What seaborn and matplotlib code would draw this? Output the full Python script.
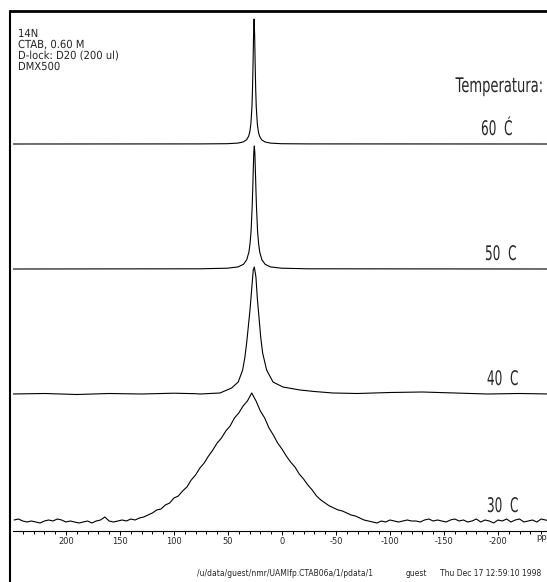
import numpy as np
import matplotlib
matplotlib.use('Agg')
import matplotlib.pyplot as plt
import seaborn as sns
from matplotlib.lines import Line2D
from matplotlib.patheffects import AbstractPathEffect
from matplotlib.ticker import MultipleLocator
from matplotlib.transforms import Affine2D

# 14N NMR of CTAB 0.60 M at four temperatures
# shift in ppm, intensity in plot units (tallest peak ~128)

ppm_60 = [249.5, 75.8, 50.8, 40.8, 35.8, 32.8, 30.8, 29.8, 28.8, 27.8, 27.3, 26.8, 26.3,
          25.8, 25.3, 24.8, 24.3, 23.8, 22.8, 21.8, 20.8, 18.8, 15.8, 10.8, 0.8, -24.2, -248]
int_60 = [0, 0.1, 0.3, 0.9, 2.1, 4.2, 7.9, 12, 20, 37, 54, 79, 109,
          125, 109, 79, 54, 37, 20, 12, 7.9, 4.2, 2.1, 0.9, 0.3, 0.1, 0]

ppm_50 = [249.5, 75.6, 50.6, 40.6, 35.6, 32.6, 30.6, 29.6, 28.6, 27.6, 27.1, 26.6, 26.1,
          25.6, 25.1, 24.6, 24.1, 23.6, 22.6, 21.6, 20.6, 18.6, 15.6, 10.6, 0.6, -24.4, -248]
int_50 = [0, 0.2, 0.8, 2.1, 4.7, 9.3, 17, 25, 38, 62, 79, 98, 116,
          123, 116, 98, 79, 62, 38, 25, 17, 9.3, 4.7, 2.1, 0.8, 0.2, 0]

ppm_40 = [249.5, 220, 190, 160, 130, 100, 80, 75.9,
          57.4, 46.6, 40.5, 36.4, 34.3, 32.7, 31.2, 29.6, 28.1, 26.6, 25.6,
          24.1, 22.9, 21.3, 19.7, 17.9, 14.2, 8.3, -0.9, -16.7, -30, -47.2,
          -70, -100, -130, -160, -190, -220, -248]
int_40 = [0, 0.5, -0.5, 0.5, 0, 0.8, 0.3, 0,
          1, 6, 12, 24, 37, 51, 67, 84, 104, 124, 127,
          117, 97, 77, 57, 41, 24, 12, 7, 4, 2.5, 1,
          0.5, 1.5, 2, 1, 0, 0.5, 0]

ppm_30 = [248, 244, 240, 236, 232, 228, 224, 220, 216, 212, 208, 204, 200, 196, 192,
          188, 184, 180, 176, 172, 168, 164, 160, 156, 152, 148, 144, 140, 136, 132,
          128, 124, 120, 116, 112, 108, 104, 100, 96, 92, 88, 84, 80, 76, 72, 68, 64,
          60, 56, 52, 48, 44, 40, 36, 32, 28,
          24, 20, 16, 12, 8, 4, 0, -4, -8, -12, -16, -20, -24, -28, -32, -36, -40,
          -44, -48, -52, -56, -60, -64, -68, -72, -76, -80,
          -84, -88, -92, -96, -100, -104, -108, -112, -116, -120, -124, -128, -132,
          -136, -140, -144, -148, -152, -156, -160, -164, -168, -172, -176, -180,
          -184, -188, -192, -196, -200, -204, -208, -212, -216, -220, -224, -228,
          -232, -236, -240, -244, -248]
int_30 = [1, 2, 0, -1, 0, -1, -2, 0, 1, 0, 2, 1, -1, 0, -1,
          -2, -1, 0, -2, 0, 1, 4, 0, -1, 0, 1, 0, 2, 1, 3,
          4, 6, 8, 11, 12, 16, 18, 23, 25, 30, 34, 41, 46, 53, 58, 65, 71,
          78, 83, 90, 95, 103, 108, 115, 120, 128,
          120, 110, 103, 93, 86, 78, 72, 65, 59, 54, 47, 42, 36, 31, 25, 21, 18,
          15, 13, 11, 10, 8, 6, 5, 3, 1, 0,
          -1, -2, 0, -1, 1, 0, -1, 0, 1, 0, 0, -1, 1,
          2, 0, 1, 0, -1, 1, 2, 0, 1, -1, 0, 2,
          -1, 1, 0, -2, 1, 0, 2, -1, 1, 2, -1, 0,
          1, -1, 2, 1, 0]

temp_labels = ['30 C', '40 C', '50 C', '60 Ć']
baselines = [0, 127, 252, 377]
header_lines = ['14N', 'CTAB, 0.60 M', 'D-lock: D20 (200 ul)', 'DMX500']
footer_path = '/u/data/guest/nmr/UAMIfp.CTAB06a/1/pdata/1'
footer_user = 'guest'
footer_date = 'Thu Dec 17 12:59:10 1998'


class Narrow(AbstractPathEffect):
    # squeeze glyphs horizontally, like the plotter's condensed font
    def __init__(self, sx, anchor='left'):
        super().__init__()
        self.sx = sx
        self.anchor = anchor

    def draw_path(self, renderer, gc, tpath, affine, rgbFace=None):
        ox, oy = affine.transform(np.array([[0.0, 0.0]]))[0]
        if self.anchor == 'right':
            ox = tpath.get_extents(affine).x1
        squeeze = Affine2D().translate(-ox, -oy).scale(self.sx, 1.0).translate(ox, oy)
        renderer.draw_path(gc, tpath, affine + squeeze, rgbFace)


W, H = 547, 582


def px(x, y):
    return x / W, 1 - y / H


sns.set_style('white')
plt.rcParams['font.family'] = ['DejaVu Sans']
plt.rcParams['axes.unicode_minus'] = False

fig = plt.figure(figsize=(W / 100, H / 100), dpi=100)
ax = fig.add_axes([12.5 / W, (H - 531) / H, (W - 12.5) / W, (531 - 11) / H])
ax.patch.set_alpha(0)

spectra = [(ppm_30, int_30), (ppm_40, int_40), (ppm_50, int_50), (ppm_60, int_60)]
for (ppm, inten), off in zip(spectra, baselines):
    sns.lineplot(x=ppm, y=np.array(inten) + off, ax=ax, color='black',
                 linewidth=0.8, sort=False, estimator=None)

ax.set_xlim(249.5, -245.4)
ax.set_ylim(-10, 510)
for side in ['top', 'left', 'right']:
    ax.spines[side].set_visible(False)
ax.spines['bottom'].set_linewidth(0.8)
ax.spines['bottom'].set_color('black')
ax.set_yticks([])
ax.xaxis.set_major_locator(MultipleLocator(50))
ax.xaxis.set_minor_locator(MultipleLocator(10))
ax.tick_params(axis='x', which='both', bottom=True, direction='out', color='black', width=0.7)
ax.tick_params(axis='x', which='major', length=3, pad=1.2, labelsize=6)
ax.tick_params(axis='x', which='minor', length=2.3)
ax.set_xlabel('')
ax.set_ylabel('')

# temperature labels next to each trace
label_x = [-189.8, -189.8, -188.0, -184.3]
for lab, off, lx in zip(temp_labels, baselines, label_x):
    t = ax.text(lx, off + 9, lab.replace(' ', '  '), fontsize=14.5, va='baseline', ha='left')
    t.set_path_effects([Narrow(0.6)])
t = ax.text(-243.5, 429, 'Temperatura:', fontsize=14.5, va='baseline', ha='right')
t.set_path_effects([Narrow(0.65, anchor='right')])

# header block, top left
for i, line in enumerate(header_lines):
    t = fig.text(*px(18, 37 + 11 * i), line, fontsize=8, va='baseline', ha='left')
    t.set_path_effects([Narrow(0.9)])

fig.text(*px(536, 538), 'ppm', fontsize=6, va='center', ha='left')

fig.text(*px(197, 576.5), footer_path, fontsize=5.5, va='baseline', ha='left')
fig.text(*px(406, 576.5), footer_user, fontsize=5.5, va='baseline', ha='left')
fig.text(*px(440, 576.5), footer_date, fontsize=5.5, va='baseline', ha='left')

# page frame (cut off at the right and bottom)
fig.add_artist(Line2D([10 / W, 1.0], [1 - 11 / H, 1 - 11 / H], transform=fig.transFigure,
                      color='black', linewidth=2.0))
fig.add_artist(Line2D([10 / W, 10 / W], [1 - 11 / H, 0.0], transform=fig.transFigure,
                      color='black', linewidth=1.5))

fig.savefig('out.png', dpi=100)
